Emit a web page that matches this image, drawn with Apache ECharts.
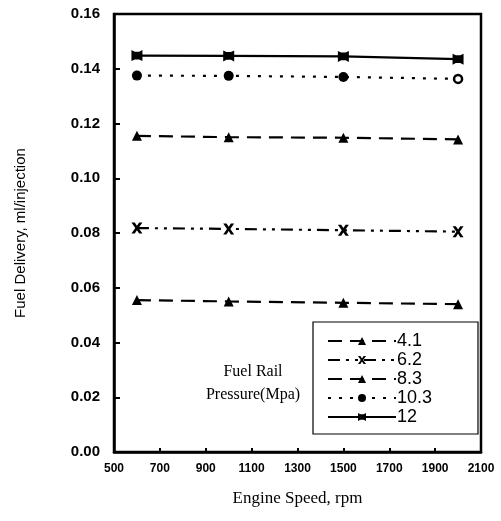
<!DOCTYPE html>
<html><head><meta charset="utf-8">
<script src="https://cdn.jsdelivr.net/npm/echarts@6/dist/echarts.min.js"></script>
<style>html,body{margin:0;padding:0;background:#fff}#c{width:501px;height:521px}</style>
</head><body><div id="c"></div>
<script>
const speeds = [600, 1000, 1500, 2000];
const seriesNames = ['4.1', '6.2', '8.3', '10.3', '12'];
const p41 = [0.0555, 0.0550, 0.0545, 0.0540];
const p62 = [0.0818, 0.0815, 0.0810, 0.0805];
const p83 = [0.1155, 0.1150, 0.1148, 0.1142];
const p103 = [0.1375, 0.1374, 0.1370, 0.1363];
const p12 = [0.1448, 0.1447, 0.1445, 0.1435];
const xTicks = [500, 700, 900, 1100, 1300, 1500, 1700, 1900, 2100];
const yTicks = [0, 0.02, 0.04, 0.06, 0.08, 0.10, 0.12, 0.14, 0.16];

const crossPath = 'path://M0,0 L3,0 L5,3 L7,0 L10,0 L6.5,5 L10,10 L7,10 L5,7 L3,10 L0,10 L3.5,5 Z';
const bowPath = 'path://M0,0 L3,1.5 L7,1.5 L10,0 L10,10 L7,8.5 L3,8.5 L0,10 Z';

function pts(vals){ return speeds.map((s,i)=>[s, vals[i]]); }

const styles = [
  {vals:p41, type:[14,8], symbol:'triangle', size:10},
  {vals:p62, type:[12,6,3,6,3,6], symbol:crossPath, size:11},
  {vals:p83, type:[14,8], symbol:'triangle', size:10},
  {vals:p103, type:[3,8], symbol:'circle', size:10},
  {vals:p12, type:'solid', symbol:bowPath, size:11}
];

const series = seriesNames.map((n,k)=>{
  const st = styles[k];
  const data = pts(st.vals).map((p,i)=>{
    if (k===3 && i===speeds.length-1) {
      return {value:p, itemStyle:{color:'#fff', borderColor:'#000', borderWidth:2.5}, symbolSize:8};
    }
    return {value:p};
  });
  return {
    name:n, type:'line', data:data, symbol:st.symbol, symbolSize:st.size,
    showAllSymbol:true,
    lineStyle:{color:'#000', width:2.2, type:st.type},
    itemStyle:{color:'#000', borderWidth:0},
    emphasis:{disabled:true}, animation:false
  };
});

const chart = echarts.init(document.getElementById('c'));
chart.setOption({
  backgroundColor:'#fff',
  animation:false,
  grid:{left:114, right:20, top:14, bottom:69, show:true, borderColor:'#000', borderWidth:2.5, backgroundColor:'transparent'},
  xAxis:{
    type:'value', min:xTicks[0], max:xTicks[xTicks.length-1], interval:200,
    name:'Engine Speed, rpm', nameLocation:'middle', nameGap:38,
    nameTextStyle:{fontFamily:'Liberation Serif', fontSize:17, color:'#000'},
    axisLine:{lineStyle:{color:'#000', width:2.5}},
    axisTick:{inside:true, length:4, lineStyle:{color:'#000', width:2}},
    axisLabel:{fontFamily:'Liberation Sans', fontWeight:'bold', fontSize:12, color:'#000', margin:11,
      formatter:v=>String(v)},
    splitLine:{show:false}
  },
  yAxis:{
    type:'value', min:yTicks[0], max:yTicks[yTicks.length-1], interval:0.02,
    name:'Fuel Delivery, ml/injection', nameLocation:'middle', nameGap:86,
    nameTextStyle:{fontFamily:'Liberation Sans', fontSize:15, color:'#000'},
    axisLine:{lineStyle:{color:'#000', width:2.5}},
    axisTick:{inside:true, length:6, lineStyle:{color:'#000', width:2}},
    axisLabel:{fontFamily:'Liberation Sans', fontWeight:'bold', fontSize:15, color:'#000', margin:14,
      formatter:v=>v.toFixed(2)},
    splitLine:{show:false}
  },
  legend:{
    orient:'vertical', left:322, top:327, itemWidth:68, itemHeight:10, itemGap:1,
    data:seriesNames,
    textStyle:{fontFamily:'Liberation Sans', fontSize:18, color:'#000', padding:[0,0,0,-4]},
    selectedMode:false
  },
  graphic:[
    {type:'rect', shape:{x:313, y:322, width:165, height:112}, style:{fill:'none', stroke:'#000', lineWidth:1.2}, z:-1},
    {type:'text', x:253, y:372, style:{text:'Fuel Rail', font:'16px "Liberation Serif"', fill:'#000', textAlign:'center', textVerticalAlign:'middle'}},
    {type:'text', x:253, y:395, style:{text:'Pressure(Mpa)', font:'16px "Liberation Serif"', fill:'#000', textAlign:'center', textVerticalAlign:'middle'}}
  ],
  series:series
});
</script></body></html>
